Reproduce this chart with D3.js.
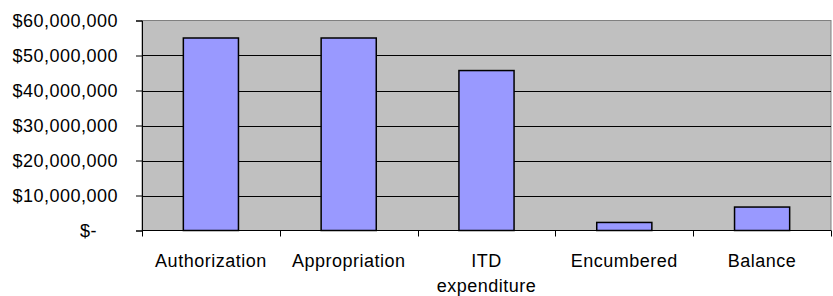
<!DOCTYPE html>
<html>
<head>
<meta charset="utf-8">
<script src="https://cdn.jsdelivr.net/npm/d3@7/dist/d3.min.js"></script>
<style>
  body { margin: 0; background: #fff; }
  text { font-family: 'Liberation Sans', Arial, sans-serif; fill: #000; letter-spacing: 0.5px; }
</style>
</head>
<body>
<div id="chart"></div>
<script>
const categories = ['Authorization', 'Appropriation', 'ITD\nexpenditure', 'Encumbered', 'Balance'];
const values = [55000000, 55000000, 45700000, 2300000, 6700000];
const yTicks = [0, 10000000, 20000000, 30000000, 40000000, 50000000, 60000000];

const width = 833, height = 296;
const margin = { top: 20.5, right: 2, bottom: 65.5, left: 142 };

const svg = d3.select('#chart')
  .append('svg')
  .attr('width', width)
  .attr('height', height);

const x = d3.scaleBand()
  .domain(categories)
  .range([margin.left, width - margin.right])
  .paddingInner(0.6)
  .paddingOuter(0.3);

const y = d3.scaleLinear()
  .domain([0, 60000000])
  .range([height - margin.bottom, margin.top]);

// plot area
svg.append('rect')
  .attr('x', margin.left)
  .attr('y', margin.top)
  .attr('width', width - margin.right - margin.left)
  .attr('height', y(0) - margin.top)
  .attr('fill', '#c0c0c0')
  .attr('stroke', '#808080')
  .attr('stroke-width', 1);

// gridlines
svg.append('g')
  .selectAll('line')
  .data(yTicks.filter((d) => d > 0 && d < 60000000))
  .enter()
  .append('line')
  .attr('x1', margin.left)
  .attr('x2', width - margin.right)
  .attr('y1', (d) => Math.round(y(d)) + 0.5)
  .attr('y2', (d) => Math.round(y(d)) + 0.5)
  .attr('stroke', '#000')
  .attr('stroke-width', 1);

// bars
svg.append('g')
  .selectAll('rect')
  .data(values)
  .enter()
  .append('rect')
  .attr('x', (d, i) => x(categories[i]))
  .attr('y', (d) => y(d))
  .attr('width', x.bandwidth())
  .attr('height', (d) => y(0) - y(d))
  .attr('fill', '#9999ff')
  .attr('stroke', '#000')
  .attr('stroke-width', 1.5);

// y axis
const fmt = (d) => d === 0 ? '$-' : '$' + d3.format(',')(d);
const yAxis = svg.append('g')
  .attr('transform', `translate(${margin.left},0)`)
  .call(d3.axisLeft(y).tickValues(yTicks).tickSize(6).tickPadding(18).tickFormat(fmt));
yAxis.select('.domain').attr('stroke', '#000');
yAxis.selectAll('.tick line').attr('stroke', '#000');
yAxis.selectAll('.tick text')
  .style('font-size', '18px')
  .attr('dy', '0.36em')
  .attr('x', (d) => d === 0 ? -45 : -24);

// x axis
const xBounds = d3.range(categories.length + 1).map((i) => margin.left + i * x.step());
const xAxis = svg.append('g');
xAxis.append('line')
  .attr('x1', margin.left)
  .attr('x2', width - margin.right)
  .attr('y1', y(0))
  .attr('y2', y(0))
  .attr('stroke', '#000');
xAxis.selectAll('.xtick')
  .data(xBounds)
  .enter()
  .append('line')
  .attr('x1', (d) => Math.round(d) + 0.5)
  .attr('x2', (d) => Math.round(d) + 0.5)
  .attr('y1', y(0))
  .attr('y2', y(0) + 6)
  .attr('stroke', '#000');

const labels = xAxis.selectAll('.xlabel')
  .data(categories)
  .enter()
  .append('text')
  .attr('text-anchor', 'middle')
  .style('font-size', '18px')
  .attr('transform', (d) => `translate(${x(d) + x.bandwidth() / 2},${y(0) + 36})`);
labels.selectAll('tspan')
  .data((d) => d.split('\n'))
  .enter()
  .append('tspan')
  .attr('x', 0)
  .attr('dy', (d, i) => i === 0 ? 0 : 25)
  .text((d) => d);
</script>
</body>
</html>
